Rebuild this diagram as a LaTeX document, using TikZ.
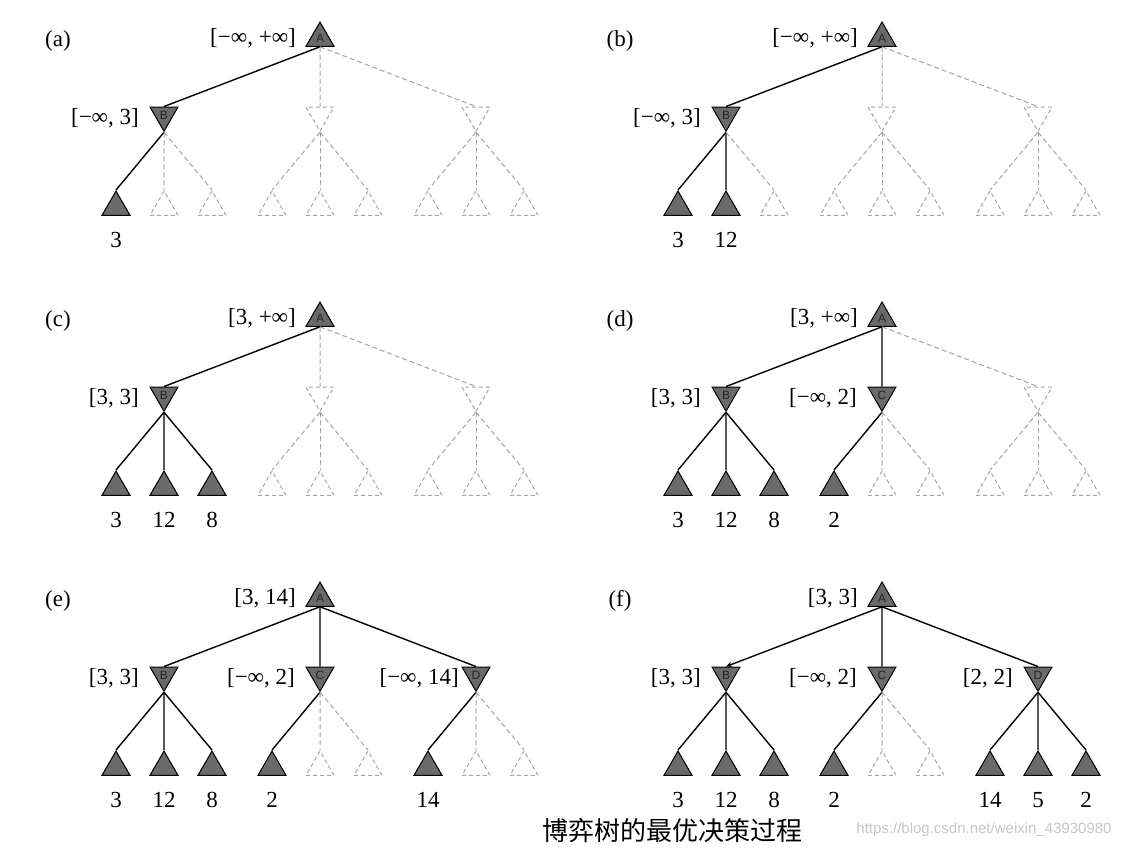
\documentclass[tikz,border=0pt]{standalone}
\usepackage{fontspec}
\setmainfont{Liberation Serif}
\newfontfamily\cjk{Noto Sans CJK SC}
\newfontfamily\wmfont{Liberation Sans}
\usetikzlibrary{shapes.geometric,arrows.meta}
\definecolor{nodefill}{HTML}{6A6A6A}
\definecolor{dashgray}{HTML}{A4A4A4}
\tikzset{
 tri/.style={regular polygon, regular polygon sides=3, minimum size=32.3pt, inner sep=0pt, line width=1pt, font=\wmfont\fontsize{12}{12}\selectfont, text=black!85},
 maxon/.style={tri, draw=black, fill=nodefill},
 maxoff/.style={tri, draw=dashgray, dash pattern=on 4pt off 3pt},
 minon/.style={maxon, regular polygon rotate=180},
 minoff/.style={maxoff, regular polygon rotate=180},
 eon/.style={line width=1.4pt, black},
 eona/.style={eon, -{Stealth[length=6pt,width=5pt]}},
 eoff/.style={line width=1pt, dashgray, dash pattern=on 5pt off 3pt},
 val/.style={font=\fontsize{23}{23}\selectfont, inner sep=0pt},
 bnd/.style={val, anchor=east},
}
\newcommand\gtree[5]{%
 \begin{scope}[shift={(#2,#3)}]
  \node[maxon] (#1A) at (0,38.2) {A};
  \foreach \n/\x/\s/\e/\t in {#4} {
    \node[\s] (#1\n) at (\x,115.1) {\t};
    \draw[\e] (#1A.south) -- (#1\n.north);
  }
  \foreach \p/\i/\x/\s/\e in {#5} {
    \node[\s] (#1\p\i) at (\x,207.2) {};
    \draw[\e] (#1\p.south) -- (#1\p\i.north);
  }
 \end{scope}}
\begin{document}
\begin{tikzpicture}[x=1pt,y=-1pt]
\fill[white] (0,0) rectangle (1130,847);
\useasboundingbox (0,0) rectangle (1130,847);

% (a)
\gtree{a}{320}{0}{B/-156/minon/eon/B, C/0/minoff/eoff/{}, D/156/minoff/eoff/{}}
{B/1/-204/maxon/eon, B/2/-156/maxoff/eoff, B/3/-108/maxoff/eoff,
 C/1/-48/maxoff/eoff, C/2/0/maxoff/eoff, C/3/48/maxoff/eoff,
 D/1/108/maxoff/eoff, D/2/156/maxoff/eoff, D/3/204/maxoff/eoff}
% (b)
\gtree{b}{882}{0}{B/-156/minon/eon/B, C/0/minoff/eoff/{}, D/156/minoff/eoff/{}}
{B/1/-204/maxon/eon, B/2/-156/maxon/eon, B/3/-108/maxoff/eoff,
 C/1/-48/maxoff/eoff, C/2/0/maxoff/eoff, C/3/48/maxoff/eoff,
 D/1/108/maxoff/eoff, D/2/156/maxoff/eoff, D/3/204/maxoff/eoff}
% (c)
\gtree{c}{320}{280}{B/-156/minon/eon/B, C/0/minoff/eoff/{}, D/156/minoff/eoff/{}}
{B/1/-204/maxon/eon, B/2/-156/maxon/eon, B/3/-108/maxon/eon,
 C/1/-48/maxoff/eoff, C/2/0/maxoff/eoff, C/3/48/maxoff/eoff,
 D/1/108/maxoff/eoff, D/2/156/maxoff/eoff, D/3/204/maxoff/eoff}
% (d)
\gtree{d}{882}{280}{B/-156/minon/eon/B, C/0/minon/eon/C, D/156/minoff/eoff/{}}
{B/1/-204/maxon/eon, B/2/-156/maxon/eon, B/3/-108/maxon/eon,
 C/1/-48/maxon/eon, C/2/0/maxoff/eoff, C/3/48/maxoff/eoff,
 D/1/108/maxoff/eoff, D/2/156/maxoff/eoff, D/3/204/maxoff/eoff}
% (e)
\gtree{e}{320}{560}{B/-156/minon/eon/B, C/0/minon/eon/C, D/156/minon/eon/D}
{B/1/-204/maxon/eon, B/2/-156/maxon/eon, B/3/-108/maxon/eon,
 C/1/-48/maxon/eon, C/2/0/maxoff/eoff, C/3/48/maxoff/eoff,
 D/1/108/maxon/eon, D/2/156/maxoff/eoff, D/3/204/maxoff/eoff}
% (f)
\gtree{f}{882}{560}{B/-156/minon/eona/B, C/0/minon/eon/C, D/156/minon/eon/D}
{B/1/-204/maxon/eon, B/2/-156/maxon/eon, B/3/-108/maxon/eon,
 C/1/-48/maxon/eon, C/2/0/maxoff/eoff, C/3/48/maxoff/eoff,
 D/1/108/maxon/eon, D/2/156/maxon/eon, D/3/204/maxon/eon}

% panel labels
\node[val] (pa) at (58,41) {(a)};
\node[val] (pb) at (620,41) {(b)};
\node[val] (pc) at (58,321) {(c)};
\node[val] (pd) at (620,321) {(d)};
\node[val] (pe) at (58,601) {(e)};
\node[val] (pf) at (620,601) {(f)};

% bounds
\node[bnd] (aLA) at ([xshift=-24pt]aA.center) {[−∞, +∞]};
\node[bnd] (aLB) at ([shift={(-25pt,-3pt)}]aB.center) {[−∞, 3]};
\node[bnd] (bLA) at ([xshift=-24pt]bA.center) {[−∞, +∞]};
\node[bnd] (bLB) at ([shift={(-25pt,-3pt)}]bB.center) {[−∞, 3]};
\node[bnd] (cLA) at ([xshift=-24pt]cA.center) {[3, +∞]};
\node[bnd] (cLB) at ([shift={(-25pt,-3pt)}]cB.center) {[3, 3]};
\node[bnd] (dLA) at ([xshift=-24pt]dA.center) {[3, +∞]};
\node[bnd] (dLB) at ([shift={(-25pt,-3pt)}]dB.center) {[3, 3]};
\node[bnd] (dLC) at ([shift={(-25pt,-3pt)}]dC.center) {[−∞, 2]};
\node[bnd] (eLA) at ([xshift=-24pt]eA.center) {[3, 14]};
\node[bnd] (eLB) at ([shift={(-25pt,-3pt)}]eB.center) {[3, 3]};
\node[bnd] (eLC) at ([shift={(-25pt,-3pt)}]eC.center) {[−∞, 2]};
\node[bnd] (eLD) at ([shift={(-17pt,-3pt)}]eD.center) {[−∞, 14]};
\node[bnd] (fLA) at ([xshift=-24pt]fA.center) {[3, 3]};
\node[bnd] (fLB) at ([shift={(-25pt,-3pt)}]fB.center) {[3, 3]};
\node[bnd] (fLC) at ([shift={(-25pt,-3pt)}]fC.center) {[−∞, 2]};
\node[bnd] (fLD) at ([shift={(-25pt,-3pt)}]fD.center) {[2, 2]};

% leaf values
\node[val] (av1) at ([yshift=-33pt]aB1.center) {3};
\node[val] (bv1) at ([yshift=-33pt]bB1.center) {3};
\node[val] (bv2) at ([yshift=-33pt]bB2.center) {12};
\node[val] (cv1) at ([yshift=-33pt]cB1.center) {3};
\node[val] (cv2) at ([yshift=-33pt]cB2.center) {12};
\node[val] (cv3) at ([yshift=-33pt]cB3.center) {8};
\node[val] (dv1) at ([yshift=-33pt]dB1.center) {3};
\node[val] (dv2) at ([yshift=-33pt]dB2.center) {12};
\node[val] (dv3) at ([yshift=-33pt]dB3.center) {8};
\node[val] (dv4) at ([yshift=-33pt]dC1.center) {2};
\node[val] (ev1) at ([yshift=-33pt]eB1.center) {3};
\node[val] (ev2) at ([yshift=-33pt]eB2.center) {12};
\node[val] (ev3) at ([yshift=-33pt]eB3.center) {8};
\node[val] (ev4) at ([yshift=-33pt]eC1.center) {2};
\node[val] (ev7) at ([yshift=-33pt]eD1.center) {14};
\node[val] (fv1) at ([yshift=-33pt]fB1.center) {3};
\node[val] (fv2) at ([yshift=-33pt]fB2.center) {12};
\node[val] (fv3) at ([yshift=-33pt]fB3.center) {8};
\node[val] (fv4) at ([yshift=-33pt]fC1.center) {2};
\node[val] (fv7) at ([yshift=-33pt]fD1.center) {14};
\node[val] (fv8) at ([yshift=-33pt]fD2.center) {5};
\node[val] (fv9) at ([yshift=-33pt]fD3.center) {2};

% caption and watermark
\node[inner sep=0pt, font=\cjk\fontsize{26}{26}\selectfont] (cap) at (672,831) {博弈树的最优决策过程};
\node[inner sep=0pt, text=black!22, font=\wmfont\fontsize{15}{15}\selectfont] (wm) at (984,830) {https://blog.csdn.net/weixin\_43930980};
\end{tikzpicture}
\end{document}
